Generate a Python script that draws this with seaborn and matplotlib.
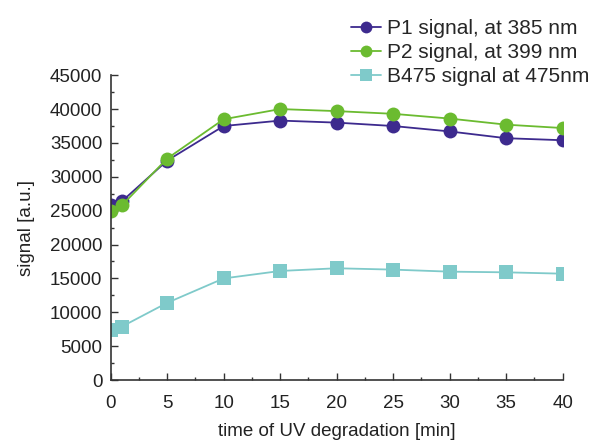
import matplotlib
matplotlib.use("Agg")
import matplotlib.pyplot as plt
import seaborn as sns
import pandas as pd
import numpy as np
from matplotlib.ticker import MultipleLocator

time_min = [0, 1, 5, 10, 15, 20, 25, 30, 35, 40]
p1_signal = [25800, 26400, 32400, 37500, 38300, 38000, 37500, 36700, 35700, 35400]
p2_signal = [25000, 25800, 32700, 38500, 40000, 39700, 39300, 38600, 37700, 37200]
b475_signal = [7400, 7900, 11400, 15000, 16100, 16500, 16300, 16000, 15900, 15700]
series_names = ["P1 signal, at 385 nm", "P2 signal, at 399 nm", "B475 signal at 475nm"]
x_ticks = [0, 5, 10, 15, 20, 25, 30, 35, 40]
y_ticks = [0, 5000, 10000, 15000, 20000, 25000, 30000, 35000, 40000, 45000]

sns.set_theme(style="ticks")
plt.rcParams['font.family'] = ['Liberation Sans', 'DejaVu Sans']

colors = ["#3d2a8e", "#6bbb30", "#7fcaca"]
markers = ["o", "o", "s"]

fig = plt.figure(figsize=(5.93, 4.45), dpi=100)
ax = fig.add_axes([0.1867, 0.146, 0.762, 0.685])

for name, vals, c, m in zip(series_names, [p1_signal, p2_signal, b475_signal], colors, markers):
    df = pd.DataFrame({"t": time_min, "v": vals})
    sns.lineplot(data=df, x="t", y="v", ax=ax, color=c, marker=m, markersize=10 if m == "o" else 9.5,
                 markeredgewidth=0, linewidth=1.3, label=name)

ax.set_xlim(0, 40)
ax.set_ylim(0, 45000)
ax.set_xticks(x_ticks)
ax.set_yticks(y_ticks)
ax.xaxis.set_minor_locator(MultipleLocator(2.5))
ax.yaxis.set_minor_locator(MultipleLocator(2500))
ax.tick_params(axis="both", which="major", direction="in", length=5, width=1, labelsize=13.5,
               colors="#333333", labelcolor="#222222", pad=6)
ax.tick_params(axis="x", which="major", pad=11)
ax.tick_params(axis="both", which="minor", direction="in", length=2.5, width=1, colors="#333333")
for s in ["left", "bottom"]:
    ax.spines[s].set_color("#333333")
    ax.spines[s].set_linewidth(1.2)
sns.despine(ax=ax)
ax.set_xlabel("time of UV degradation [min]", fontsize=13.5, color="#222222", labelpad=8)
ax.set_ylabel("signal [a.u.]", fontsize=13.5, color="#222222", labelpad=11)

leg = ax.legend(loc="upper right", bbox_to_anchor=(1.06, 1.185), frameon=False, fontsize=15,
                handlelength=1.45, handletextpad=0.3, labelspacing=0.25, borderaxespad=0,
                borderpad=0, markerscale=0.85)

fig.savefig("out.png", dpi=100)
